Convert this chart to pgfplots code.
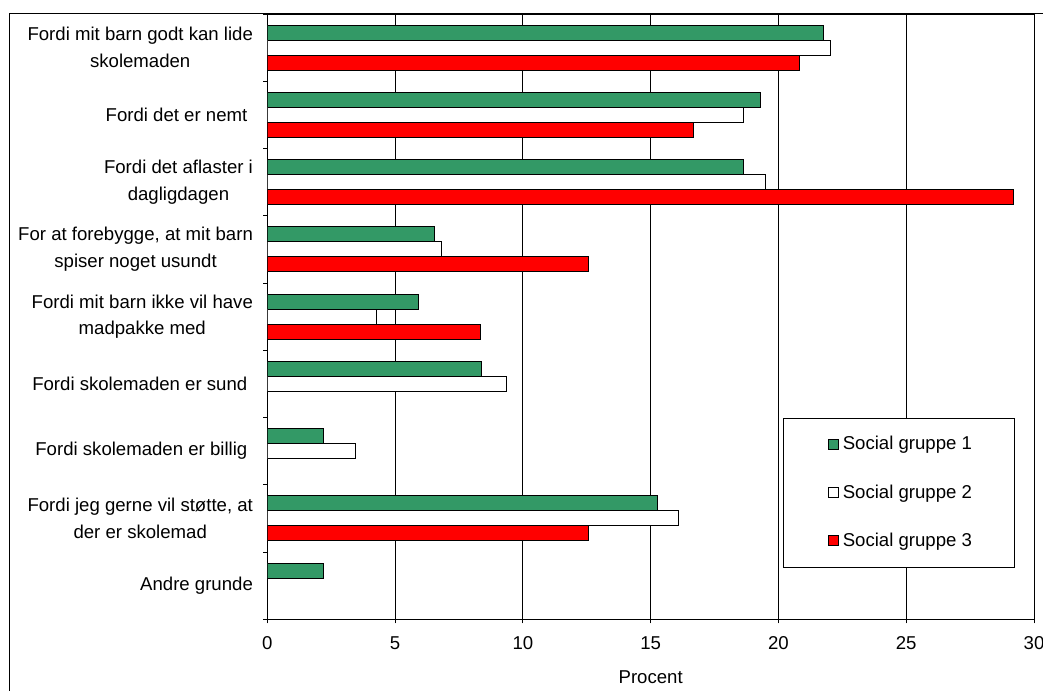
\documentclass[border=0pt]{standalone}
\usepackage{fontspec}
\setmainfont{Liberation Sans}
\usepackage{pgfplots}
\pgfplotsset{compat=1.18}
\definecolor{gA}{RGB}{51,153,102}
\begin{document}
\begin{tikzpicture}
\useasboundingbox (-133.65pt,-35.35pt) rectangle (387.85pt,309.65pt);
\begin{axis}[
  at={(0pt,0pt)}, anchor=south west,
  scale only axis, width=383.35pt, height=302.65pt,
  font=\fontsize{9.3}{13.35}\selectfont,
  /pgf/number format/assume math mode=true,
  xbar=0pt, bar width=7.5pt,
  xmin=0, xmax=30, xtick={0,5,...,30},
  ymin=-0.5, ymax=8.5, y dir=reverse,
  ytick={-0.5,0.5,...,8.5}, yticklabels={},
  extra y ticks={0,1,...,8},
  extra y tick labels={
    {Fordi mit barn godt kan lide\\skolemaden},
    {Fordi det er nemt\hspace*{0.3em}},
    {Fordi det aflaster i\\dagligdagen},
    {For at forebygge, at mit barn\\spiser noget usundt},
    {Fordi mit barn ikke vil have\\madpakke med},
    {Fordi skolemaden er sund\hspace*{0.3em}},
    {Fordi skolemaden er billig\hspace*{0.3em}},
    {Fordi jeg gerne vil støtte, at\\der er skolemad},
    {Andre grunde}},
  extra y tick style={major tick length=0pt, yticklabel style={align=center, inner sep=0pt, xshift=-7pt}},
  tick pos=left,
  tick align=outside, major tick length=2pt,
  tick style={black, line width=0.5pt},
  axis line style={black, line width=0.5pt},
  xmajorgrids, grid style={black, line width=0.5pt},
  xticklabel style={yshift=-3pt},
  xlabel={Procent},
  xlabel style={at={(axis description cs:0.5,0)}, anchor=center, yshift=-29pt},
  legend style={at={(0.673,0.3326)}, anchor=north west, draw=black, line width=0.5pt, fill=white,
    inner xsep=19pt, inner ysep=7pt, row sep=11.8pt, font=\fontsize{9.3}{11}\selectfont},
  legend cell align=left,
  legend image code/.code={\path (0pt,0pt); \draw[#1, line width=0.5pt] (3pt,-2.5pt) rectangle (8pt,2.5pt);},
]
\addplot[fill=gA, draw=black, line width=0.5pt, bar shift=7.5pt] coordinates {
  (21.75,0) (19.28,1) (18.65,2) (6.55,3) (5.92,4) (8.40,5) (2.19,6) (15.26,7) (2.19,8)};
\addplot[fill=white, draw=black, line width=0.5pt, bar shift=0pt] coordinates {
  (22.04,0) (18.65,1) (19.48,2) (6.81,3) (4.28,4) (9.37,5) (3.44,6) (16.10,7)};
\addplot[fill=red, draw=black, line width=0.5pt, bar shift=-7.5pt] coordinates {
  (20.84,0) (16.67,1) (29.19,2) (12.55,3) (8.35,4) (12.55,7)};
\legend{Social gruppe 1, Social gruppe 2, Social gruppe 3}
\end{axis}
\draw[black, line width=0.5pt] (-128.65pt,-60pt) rectangle (420pt,302.65pt);
\end{tikzpicture}
\end{document}
